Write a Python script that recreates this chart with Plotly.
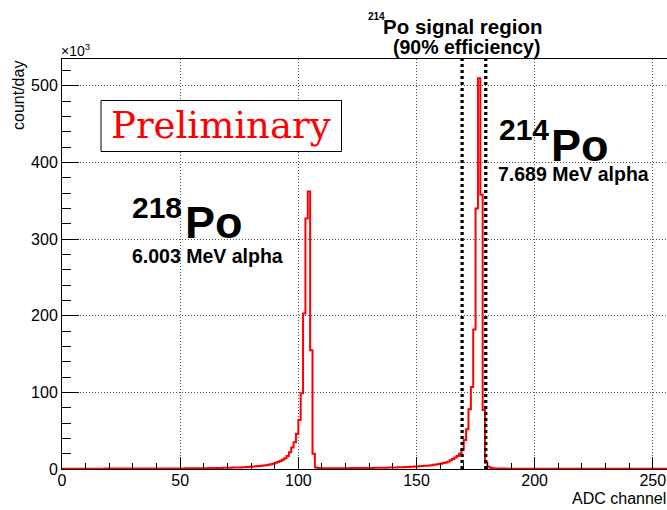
import plotly.graph_objects as go

# ---------------- data (counts/day in units of 10^3, one bin per ADC channel) ----------------
adc_bin_edges = list(range(0, 257))
counts_k = [
    0.2, 0.3, 0.3, 0.4, 0.4, 0.4, 0.4, 0.4, 0.4, 0.4,          # 0-9
    0.4, 0.4, 0.4, 0.4, 0.4, 0.4, 0.4, 0.4, 0.5, 0.5,          # 10-19
    0.5, 0.5, 0.5, 0.5, 0.5, 0.5, 0.5, 0.5, 0.5, 0.5,          # 20-29
    0.5, 0.5, 0.5, 0.5, 0.6, 0.6, 0.6, 0.6, 0.6, 0.6,          # 30-39
    0.6, 0.6, 0.7, 0.7, 0.7, 0.7, 0.7, 0.8, 0.8, 0.8,          # 40-49
    0.8, 0.8, 0.9, 0.9, 0.9, 0.9, 1.0, 1.0, 1.0, 1.1,          # 50-59
    1.1, 1.1, 1.2, 1.2, 1.3, 1.3, 1.4, 1.4, 1.5, 1.5,          # 60-69
    1.6, 1.7, 1.8, 1.9, 2.0, 2.1, 2.2, 2.4, 2.6, 2.8,          # 70-79
    3.0, 3.2, 3.5, 3.8, 4.1, 4.5, 5.0, 5.5, 6.2, 7.0,          # 80-89
    8.0, 9.0, 10.5, 12.0, 14.0, 17.0, 22.0, 28.0, 35.0, 46.0,  # 90-99
    64.0, 99.0, 203.0, 327.0, 362.0, 155.0, 20.0, 2.0, 1.2, 1.0,  # 100-109
    1.0, 1.0, 1.0, 1.0, 1.0, 1.0, 1.0, 1.0, 1.1, 1.1,          # 110-119
    1.1, 1.1, 1.2, 1.2, 1.2, 1.2, 1.3, 1.3, 1.3, 1.4,          # 120-129
    1.4, 1.4, 1.5, 1.5, 1.6, 1.6, 1.7, 1.7, 1.8, 1.9,          # 130-139
    2.0, 2.1, 2.2, 2.3, 2.4, 2.5, 2.6, 2.8, 3.0, 3.2,          # 140-149
    3.4, 3.6, 3.8, 4.1, 4.4, 4.7, 5.0, 5.4, 5.9, 6.4,          # 150-159
    7.0, 7.7, 8.5, 9.5, 11.5, 13.0, 15.0, 17.0, 20.0, 25.0,    # 160-169
    38.0, 52.0, 78.0, 107.0, 182.0, 340.0, 510.0, 358.0, 77.0, 8.0,  # 170-179
    3.0, 1.5, 0.9, 0.7, 0.6, 0.5, 0.5, 0.5, 0.4, 0.4,          # 180-189
    0.4, 0.4, 0.4, 0.4, 0.4, 0.4, 0.4, 0.4, 0.4, 0.4,          # 190-199
    0.4, 0.4, 0.3, 0.3, 0.3, 0.3, 0.3, 0.3, 0.3, 0.3,          # 200-209
    0.3, 0.3, 0.3, 0.3, 0.3, 0.3, 0.3, 0.3, 0.3, 0.3,          # 210-219
    0.3, 0.3, 0.3, 0.3, 0.3, 0.3, 0.3, 0.3, 0.3, 0.3,          # 220-229
    0.3, 0.3, 0.3, 0.3, 0.3, 0.3, 0.3, 0.3, 0.3, 0.3,          # 230-239
    0.3, 0.3, 0.3, 0.3, 0.3, 0.3, 0.3, 0.3, 0.3, 0.3,          # 240-249
    0.3, 0.3, 0.3, 0.3, 0.3, 0.3,                              # 250-255
]
signal_region = [169.3, 179.3]
x_ticks = [0, 50, 100, 150, 200, 250]
y_ticks = [0, 100, 200, 300, 400, 500]
y_tick_labels = ["0", "100", "200", "300", "400", "500"]
x_range = [0, 256]
y_range = [0, 535]

# ---------------- layout geometry (pixels) ----------------
W, H = 667, 510
L, R, T, B = 62, 667, 59, 469

def px(X):
    return (X - L) / (R - L)

def py(Y):
    return (B - Y) / (B - T)

SANS = "Liberation Sans, Arial, Helvetica, sans-serif"
SERIF = "DejaVu Serif, Liberation Serif, serif"

fig = go.Figure()
fig.add_trace(go.Scatter(
    x=adc_bin_edges,
    y=counts_k + [counts_k[-1]],
    mode="lines",
    line=dict(color="#ff0000", width=2, shape="hv"),
    hoverinfo="skip",
    showlegend=False,
))

shapes = []
for xv in signal_region:
    shapes.append(dict(type="line", xref="x", yref="paper", x0=xv, x1=xv, y0=0, y1=1,
                       line=dict(color="black", width=3.3, dash="3px,3px"), layer="above"))
# Preliminary box
shapes.append(dict(type="rect", xref="paper", yref="paper",
                   x0=px(101), x1=px(341.5), y0=py(151.5), y1=py(100.5),
                   line=dict(color="black", width=1), fillcolor="white", layer="above"))

def ann(text, X, Y, size, xanchor="left", yanchor="middle", color="black", family=SANS,
        angle=0, height=None):
    a = dict(text=text, x=px(X), y=py(Y), xref="paper", yref="paper",
             xanchor=xanchor, yanchor=yanchor, showarrow=False, textangle=angle,
             font=dict(family=family, size=size, color=color), borderpad=0)
    if height is not None:
        a["height"] = height
    return a

annotations = [
    ann("Preliminary", 221, 125, 37, xanchor="center", color="#ff0000", family=SERIF),
    ann("<b>218</b>", 131, 207, 30),
    ann("<b>Po</b>", 184, 222, 45, height=36),
    ann("<b>6.003 MeV alpha</b>", 131, 256, 19.5),
    ann("<b>214</b>", 498, 129, 30),
    ann("<b>Po</b>", 550, 145, 45, height=36),
    ann("<b>7.689 MeV alpha</b>", 497, 174, 19.5),
    ann("<b>214</b>", 367, 17, 10),
    ann("<b>Po signal region</b>", 382, 27, 20.5),
    ann("<b>(90% efficiency)</b>", 392, 47, 19.5),
    ann("×10<sup>3</sup>", 60, 50, 14),
    ann("count/day", 19, 96, 16, xanchor="center", angle=-90),
    ann("ADC channel", 667, 498, 16, xanchor="right"),
]

fig.update_layout(
    width=W, height=H,
    margin=dict(l=L, r=W - R, t=T, b=H - B),
    paper_bgcolor="white", plot_bgcolor="white",
    shapes=shapes, annotations=annotations,
    font=dict(family=SANS, size=16, color="black"),
    xaxis=dict(range=x_range, tickvals=x_ticks, ticks="inside", ticklen=12, tickwidth=1,
               tickcolor="black", showline=True, linecolor="black", linewidth=1, mirror=True,
               showgrid=True, gridcolor="#555", griddash="1px,2px", gridwidth=1, zeroline=False,
               tickfont=dict(size=16, family=SANS), ticklabelstandoff=-3,
               minor=dict(dtick=10, ticks="inside", ticklen=6, tickcolor="black", showgrid=False)),
    yaxis=dict(range=y_range, tickvals=y_ticks, ticktext=y_tick_labels, ticks="inside",
               ticklen=17, tickwidth=1, tickcolor="black", showline=True, linecolor="black",
               linewidth=1, mirror=False, showgrid=True, gridcolor="#555", griddash="1px,2px",
               gridwidth=1, zeroline=False, tickfont=dict(size=16, family=SANS),
               minor=dict(dtick=20, ticks="inside", ticklen=9, tickcolor="black", showgrid=False)),
)

fig.write_html("out.html", config={"displayModeBar": False},
               post_script="document.body.style.margin='0';document.body.style.padding='0';")
